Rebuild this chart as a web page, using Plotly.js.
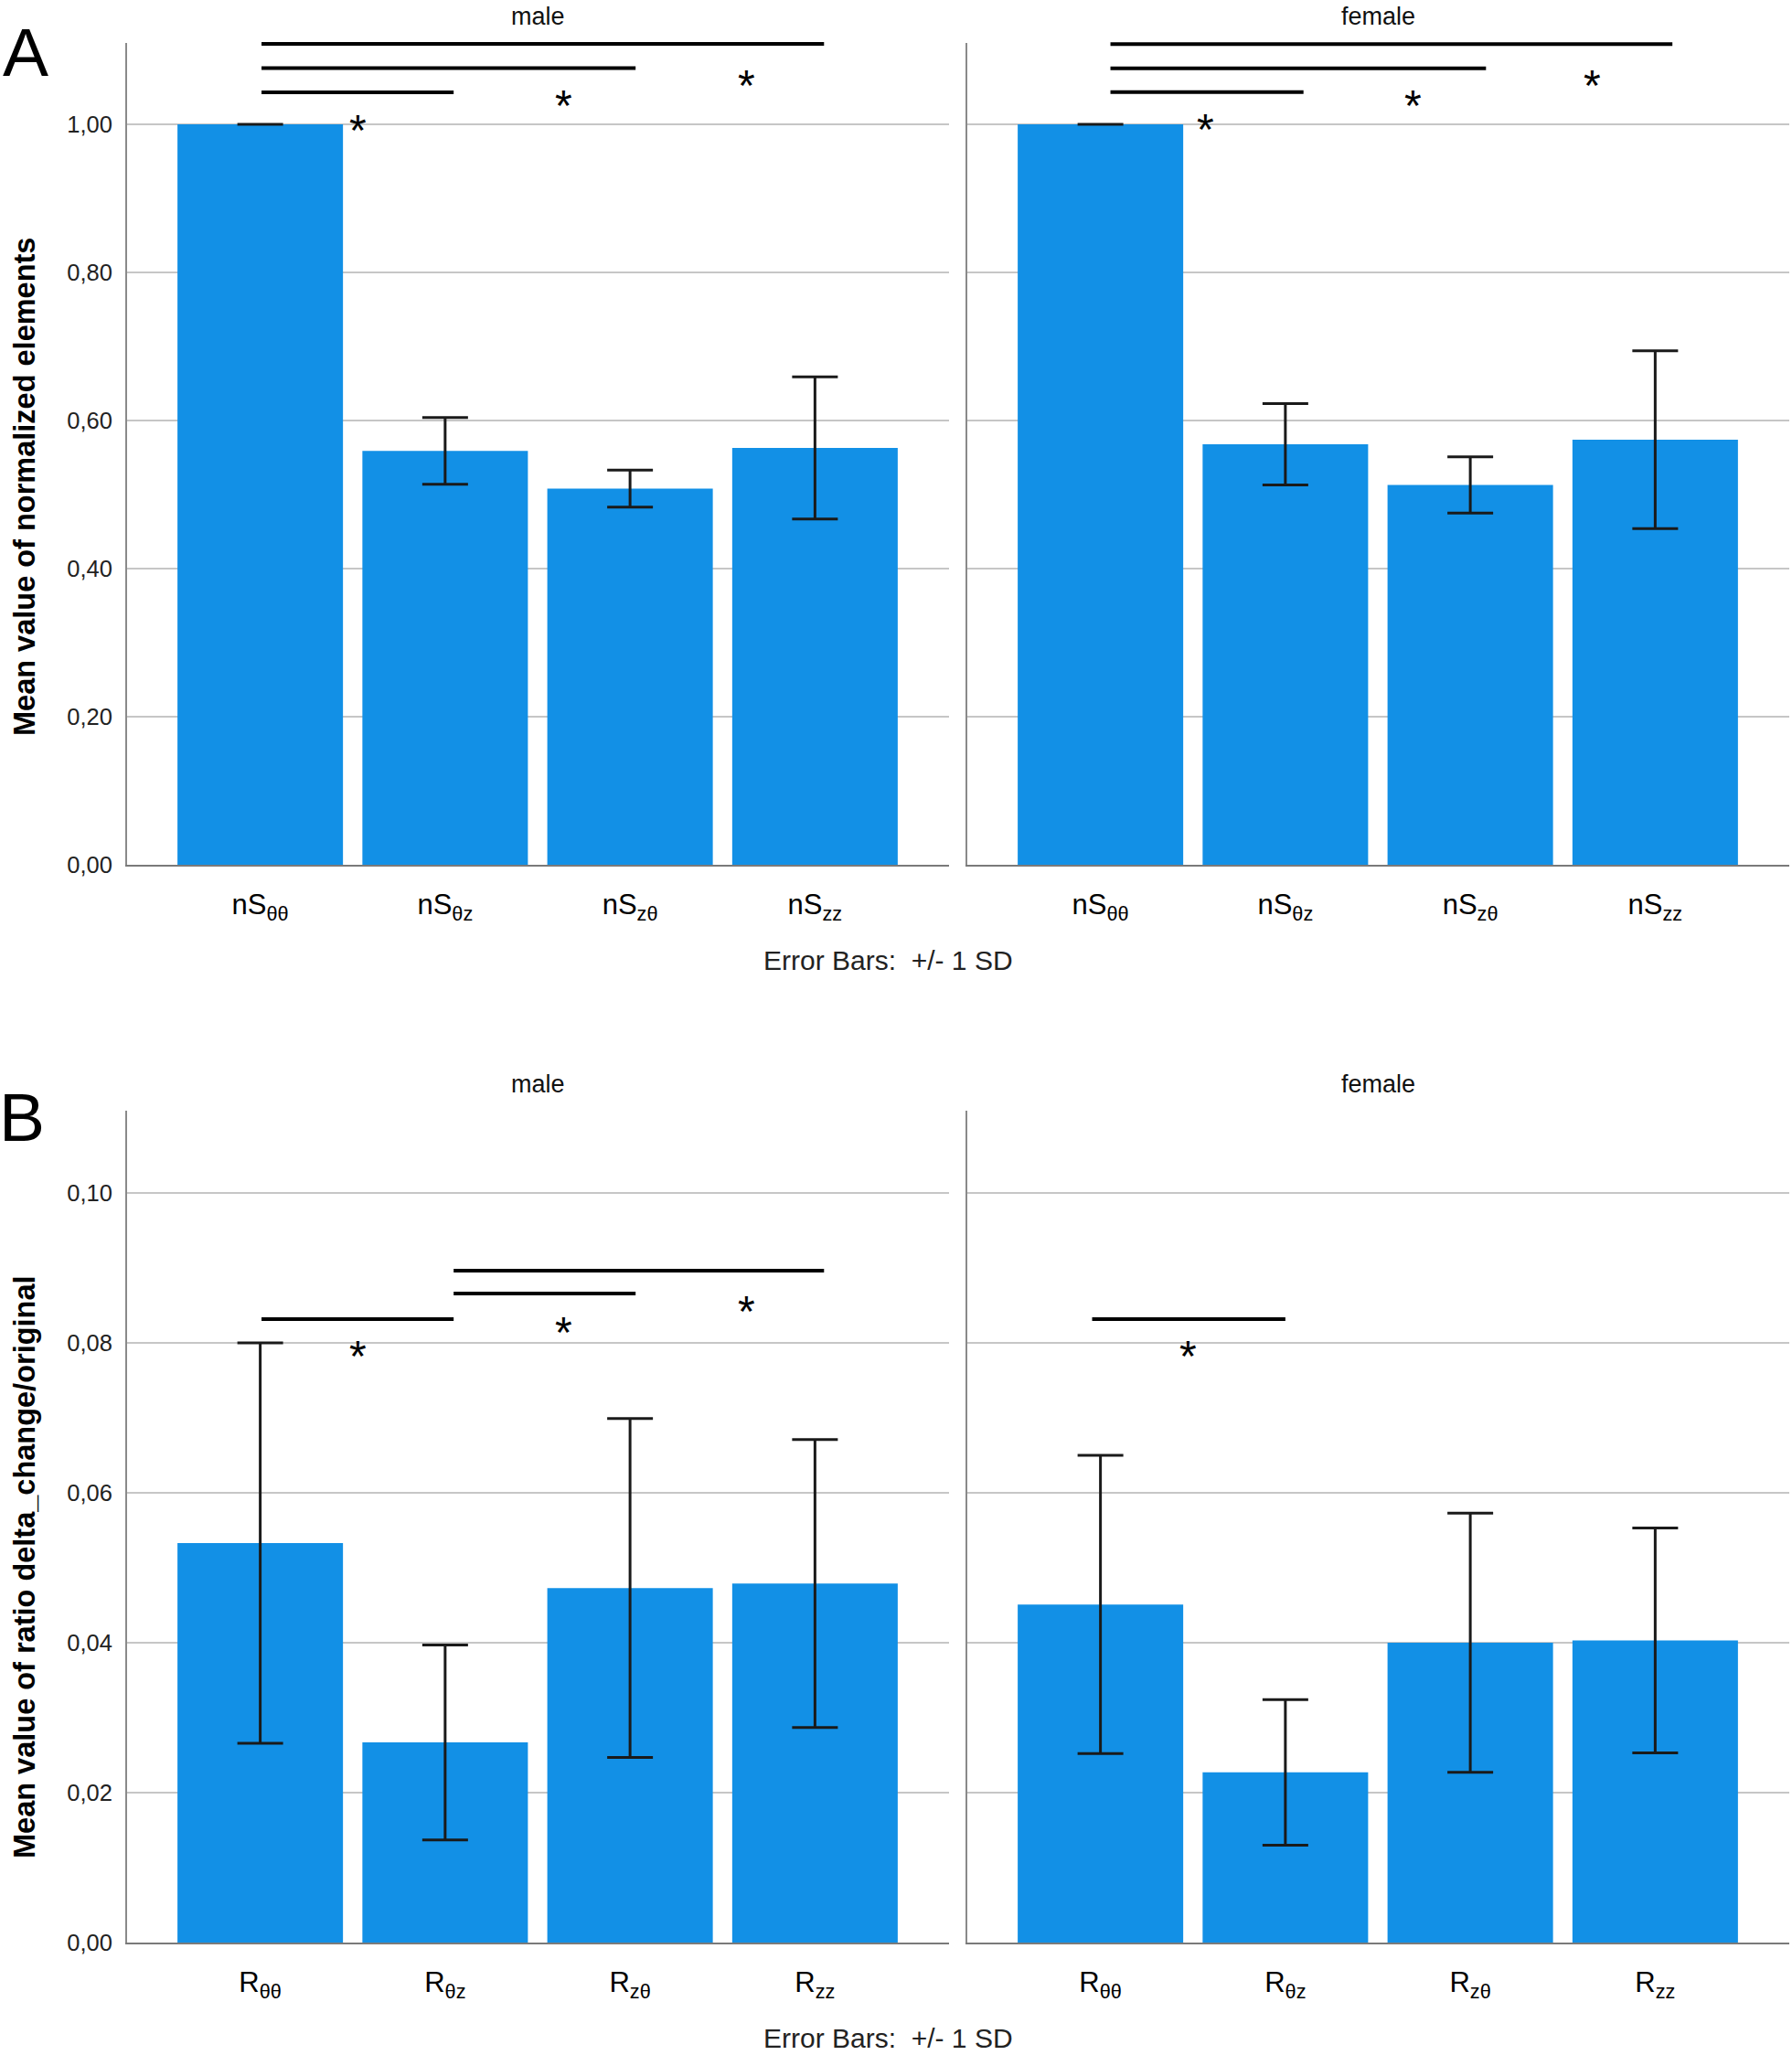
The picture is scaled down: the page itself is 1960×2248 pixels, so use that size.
<!DOCTYPE html>
<html>
<head>
<meta charset="utf-8">
<script src="https://cdn.plot.ly/plotly-3.0.1.min.js"></script>
<style>
html,body{margin:0;padding:0;background:#fff;}
#chart{width:1960px;height:2248px;}
</style>
</head>
<body>
<div id="chart"></div>
<script>
// ---------------- data ----------------
var catsA = ['nSθθ', 'nSθz', 'nSzθ', 'nSzz'];
var tickTextA = ['nS<sub>θθ</sub>', 'nS<sub>θz</sub>', 'nS<sub>zθ</sub>', 'nS<sub>zz</sub>'];
var catsB = ['Rθθ', 'Rθz', 'Rzθ', 'Rzz'];
var tickTextB = ['R<sub>θθ</sub>', 'R<sub>θz</sub>', 'R<sub>zθ</sub>', 'R<sub>zz</sub>'];

var maleA_mean   = [1.000, 0.559, 0.508, 0.563];
var maleA_sd     = [0.000, 0.045, 0.025, 0.096];
var femaleA_mean = [1.000, 0.568, 0.513, 0.574];
var femaleA_sd   = [0.000, 0.055, 0.038, 0.120];

var maleB_mean   = [0.0533, 0.0267, 0.0473, 0.0479];
var maleB_sd     = [0.0267, 0.0130, 0.0226, 0.0192];
var femaleB_mean = [0.0451, 0.0227, 0.0400, 0.0403];
var femaleB_sd   = [0.0199, 0.0097, 0.0173, 0.0150];

var panelTitles = ['male', 'female'];
var yTitleA = 'Mean value of normalized elements';
var yTitleB = 'Mean value of ratio delta_change/original';
var errorNote = 'Error Bars:\u00a0 +/- 1 SD';

// ---------------- helpers ----------------
var W = 1960, H = 2248;
function PX(p){ return p / W; }
function PY(p){ return 1 - p / H; }
var FONT = 'Liberation Sans, Arial, Helvetica, sans-serif';
var BAR = '#1290E6';
var ERR = '#1a1a1a';

function barTrace(cats, mean, sd, xa, ya){
  return {
    type: 'bar', x: cats, y: mean, xaxis: xa, yaxis: ya,
    marker: {color: BAR, line: {width: 0}},
    error_y: {type: 'data', array: sd, visible: true, color: ERR, thickness: 3, width: 25},
    hoverinfo: 'none', showlegend: false
  };
}

var data = [
  barTrace(catsA, maleA_mean, maleA_sd, 'x', 'y'),
  barTrace(catsA, femaleA_mean, femaleA_sd, 'x2', 'y2'),
  barTrace(catsB, maleB_mean, maleB_sd, 'x3', 'y3'),
  barTrace(catsB, femaleB_mean, femaleB_sd, 'x4', 'y4')
];

var XR = [-0.72, 3.725];
function xAxis(domPx, anchor, cats, txt){
  return {
    domain: [PX(domPx[0]), PX(domPx[1])], anchor: anchor, type: 'category',
    range: XR, tickvals: cats, ticktext: txt, ticks: '', showgrid: false,
    showline: true, linecolor: '#7a7a7a', linewidth: 2, zeroline: false,
    tickfont: {family: FONT, size: 31, color: '#000'}, ticklabelstandoff: 15,
    fixedrange: true
  };
}
function yAxis(domPx, anchor, range, dtick, labels){
  return {
    domain: [PY(domPx[1]), PY(domPx[0])], anchor: anchor, range: range,
    tick0: 0, dtick: dtick, tickformat: '.2f', ticks: '',
    showgrid: true, gridcolor: '#c6c6c6', gridwidth: 2,
    showline: true, linecolor: '#8a8a8a', linewidth: 2, zeroline: false,
    showticklabels: labels, tickfont: {family: FONT, size: 25.5, color: '#222'},
    ticklabelstandoff: 9, fixedrange: true
  };
}

var rangeA = [0, 1.1099];
var rangeB = [0, 0.11098];

var layout = {
  width: W, height: H, margin: {l: 0, r: 0, t: 0, b: 0},
  paper_bgcolor: '#fff', plot_bgcolor: '#fff',
  separators: ',.', bargap: 0.105, showlegend: false,
  font: {family: FONT, color: '#000'},
  xaxis:  xAxis([139, 1038], 'y', catsA, tickTextA),
  xaxis2: xAxis([1058, 1957], 'y2', catsA, tickTextA),
  xaxis3: xAxis([139, 1038], 'y3', catsB, tickTextB),
  xaxis4: xAxis([1058, 1957], 'y4', catsB, tickTextB),
  yaxis:  yAxis([47, 946], 'x', rangeA, 0.2, true),
  yaxis2: yAxis([47, 946], 'x2', rangeA, 0.2, false),
  yaxis3: yAxis([1215, 2125], 'x3', rangeB, 0.02, true),
  yaxis4: yAxis([1215, 2125], 'x4', rangeB, 0.02, false),
  shapes: [],
  annotations: []
};

// significance bars: [xref, x0, x1, y(px)]
var sigLines = [
  ['x', 0.007, 1.046, 101], ['x', 0.007, 2.030, 74.6], ['x', 0.007, 3.049, 48],
  ['x2', 0.054, 1.098, 100.7], ['x2', 0.054, 2.085, 74.7], ['x2', 0.054, 3.093, 48.3],
  ['x3', 0.007, 1.046, 1443], ['x3', 1.046, 2.030, 1415], ['x3', 1.046, 3.049, 1390],
  ['x4', -0.045, 1.000, 1443]
];
sigLines.forEach(function(s){
  layout.shapes.push({type: 'line', xref: s[0], yref: 'paper', x0: s[1], x1: s[2],
    y0: PY(s[3]), y1: PY(s[3]), line: {color: '#000', width: 4}});
});

// stars: [xref, x, y(px) of glyph centre]
var stars = [
  ['x', 0.527, 135], ['x', 1.64, 107], ['x', 2.63, 86],
  ['x2', 0.569, 134], ['x2', 1.69, 107], ['x2', 2.66, 86],
  ['x3', 0.527, 1475], ['x3', 1.64, 1449], ['x3', 2.63, 1426],
  ['x4', 0.475, 1475]
];
stars.forEach(function(s){
  layout.annotations.push({text: '*', xref: s[0], yref: 'paper', x: s[1], y: PY(s[2] + 8),
    xanchor: 'center', yanchor: 'middle', showarrow: false,
    font: {family: FONT, size: 48, color: '#000'}});
});

function txt(text, xpx, ypx, size, opts){
  var a = {text: text, xref: 'paper', yref: 'paper', x: PX(xpx), y: PY(ypx),
    xanchor: 'center', yanchor: 'middle', showarrow: false,
    font: {family: FONT, size: size, color: '#111'}};
  for (var k in opts) a[k] = opts[k];
  layout.annotations.push(a);
}
// panel headings
txt(panelTitles[0], 588.5, 18, 27);
txt(panelTitles[1], 1507.5, 18, 27);
txt(panelTitles[0], 588.5, 1186, 27);
txt(panelTitles[1], 1507.5, 1186, 27);
// panel letters
txt('A', 1, 57, 75, {xanchor: 'left', font: {family: FONT, size: 75, color: '#000'}});
txt('B', -3, 1221.5, 75, {xanchor: 'left', font: {family: FONT, size: 75, color: '#000'}});
// y titles
txt('<b>' + yTitleA + '</b>', 27, 533, 32.5, {textangle: -90, font: {family: FONT, size: 32.5, color: '#000'}});
txt('<b>' + yTitleB + '</b>', 27, 1714, 32.5, {textangle: -90, font: {family: FONT, size: 32.5, color: '#000'}});
// error bar notes
txt(errorNote, 971.5, 1051, 30, {font: {family: FONT, size: 30, color: '#222'}});
txt(errorNote, 971.5, 2229, 30, {font: {family: FONT, size: 30, color: '#222'}});

Plotly.newPlot('chart', data, layout, {staticPlot: true, displayModeBar: false});
</script>
</body>
</html>
